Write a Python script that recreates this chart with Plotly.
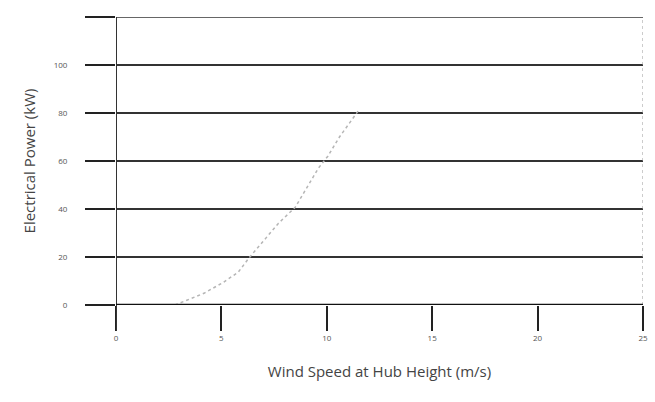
import plotly.graph_objects as go

wind_speed = [2.8, 4.2, 5.1, 5.8, 6.3, 7.7, 8.5, 9.6, 10.05, 10.6, 11.5]
power = [0, 5, 9.5, 13.7, 19.5, 34, 40.7, 57, 62, 70, 81]

x_ticks = [0, 5, 10, 15, 20, 25]
y_ticks = [0, 20, 40, 60, 80, 100]
y_grid = [0, 20, 40, 60, 80, 100, 120]

fig = go.Figure()
fig.add_trace(go.Scatter(
    x=wind_speed, y=power, mode="lines",
    line=dict(color="#b5b5b5", width=1.5, dash="dot"),
    showlegend=False, hoverinfo="skip", cliponaxis=False))

fig.update_layout(
    width=655, height=402,
    margin=dict(l=116, r=12, t=17, b=97, autoexpand=False),
    paper_bgcolor="white", plot_bgcolor="white",
    font=dict(family="Open Sans", color="#444"),
    xaxis=dict(
        range=[0, 25], tickvals=x_ticks, ticktext=[str(v) for v in x_ticks],
        showgrid=False, zeroline=False, showline=False, automargin=False,
        ticks="outside", ticklen=25, tickwidth=2, tickcolor="#222",
        tickfont=dict(size=8, color="#555"),
        ticklabeloverflow="allow",
        title=dict(text="Wind Speed at Hub Height (m/s)", font=dict(size=15, color="#444"), standoff=24),
    ),
    yaxis=dict(
        range=[0, 120], tickvals=y_grid,
        ticktext=[str(v) if v in y_ticks else "" for v in y_grid],
        showgrid=True, gridcolor="#333", gridwidth=1.5,
        zeroline=False, showline=False, automargin=False,
        ticks="outside", ticklen=30, tickwidth=1.5, tickcolor="#222",
        ticklabelstandoff=16,
        tickfont=dict(size=8, color="#555"),
        title=dict(text="Electrical Power (kW)", font=dict(size=15, color="#444"), standoff=14),
    ),
)

# left axis line extending below zero, right border, top line, thick zero line
fig.add_shape(type="line", xref="x", yref="paper", x0=0, x1=0, y0=-0.09, y1=1.0,
              line=dict(color="#333", width=2), layer="above")
fig.add_shape(type="line", xref="x", yref="paper", x0=25, x1=25, y0=0, y1=1.0,
              line=dict(color="#999", width=1, dash="dot"), layer="above")
fig.add_shape(type="line", xref="paper", yref="y", x0=0, x1=1, y0=120, y1=120,
              line=dict(color="#333", width=1.5), layer="above")
fig.add_shape(type="line", xref="paper", yref="y", x0=0, x1=1, y0=0, y1=0,
              line=dict(color="#111", width=2.5), layer="above")

fig.write_html(
    "out.html",
    config={"displayModeBar": False},
    post_script="document.body.style.margin='0';document.body.style.overflow='hidden';",
)
